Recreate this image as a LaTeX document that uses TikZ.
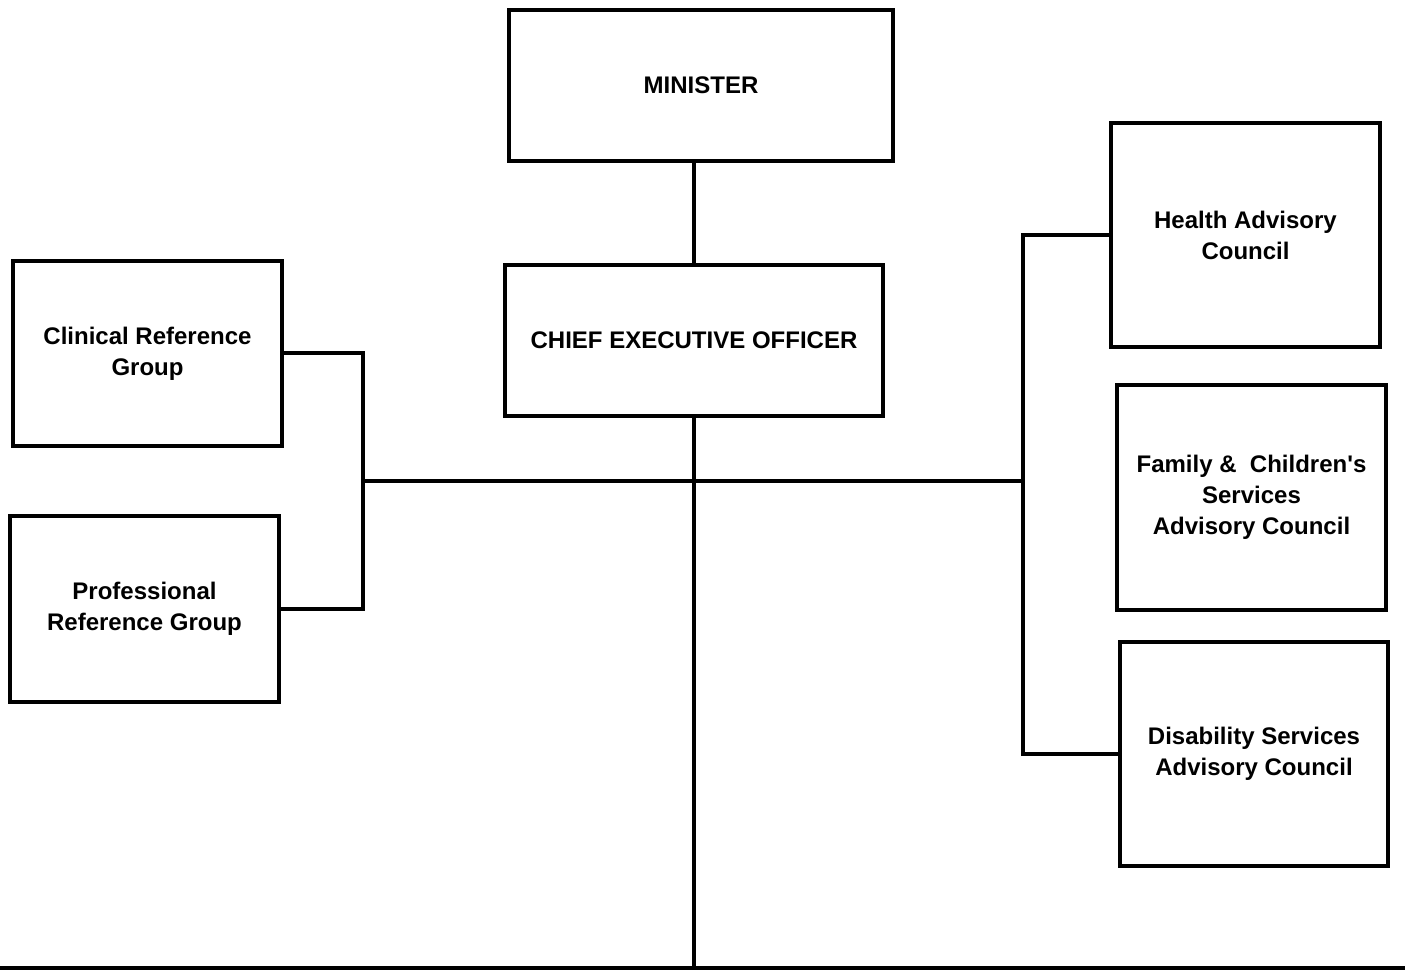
\documentclass[tikz,border=0pt]{standalone}
\usepackage{fontspec}
% a family without TeX ligature mapping keeps the straight apostrophe
\newfontfamily\orgfont{Liberation Sans}
\begin{document}
\begin{tikzpicture}[x=0.5pt,y=-0.5pt,
  unit/.style={draw=black, line width=2pt, fill=white, align=center,
    inner sep=2pt, font=\orgfont\bfseries\fontsize{12}{15.5}\selectfont},
  link/.style={draw=black, line width=2pt, line cap=rect}]
  \useasboundingbox (0,0) rectangle (1405,973);

  % governance chain
  \node[unit, minimum width=192pt, minimum height=75.5pt] (minister) at (701,85.5) {MINISTER};
  \node[unit, minimum width=189pt, minimum height=75.5pt] (ceo) at (694,340.5) {CHIEF EXECUTIVE OFFICER};

  % reference groups
  \node[unit, minimum width=134.5pt, minimum height=92.5pt] (clinical) at (147.5,353.5) {Clinical Reference\\Group};
  \node[unit, minimum width=134.5pt, minimum height=93pt] (professional) at (144.5,609) {Professional\\Reference Group};

  % advisory councils
  \node[unit, minimum width=134.5pt, minimum height=112pt] (health) at (1245.5,235) {Health Advisory\\Council};
  \node[unit, minimum width=134.5pt, minimum height=112.5pt] (family) at (1251.5,497.5) {Family \& \ Children's\\Services\\Advisory Council};
  \node[unit, minimum width=134pt, minimum height=112pt] (disability) at (1254,754) {Disability Services\\Advisory Council};

  % junction points
  \coordinate (lj) at (363,481);
  \coordinate (rj) at (1023,481);
  \coordinate (bl) at (0,968);
  \coordinate (br) at (1405,968);

  % connectors
  \draw[link] (ceo.north) -- (ceo.north |- minister.south);
  \draw[link] (ceo.south) -- (ceo.south |- bl);
  \draw[link] (clinical.east) -| (lj);
  \draw[link] (professional.east) -| (lj);
  \draw[link] (lj) -- (rj);
  \draw[link] (health.west) -| (rj);
  \draw[link] (disability.west) -| (rj);
  \draw[line width=2pt] (bl) -- (br);
\end{tikzpicture}
\end{document}
